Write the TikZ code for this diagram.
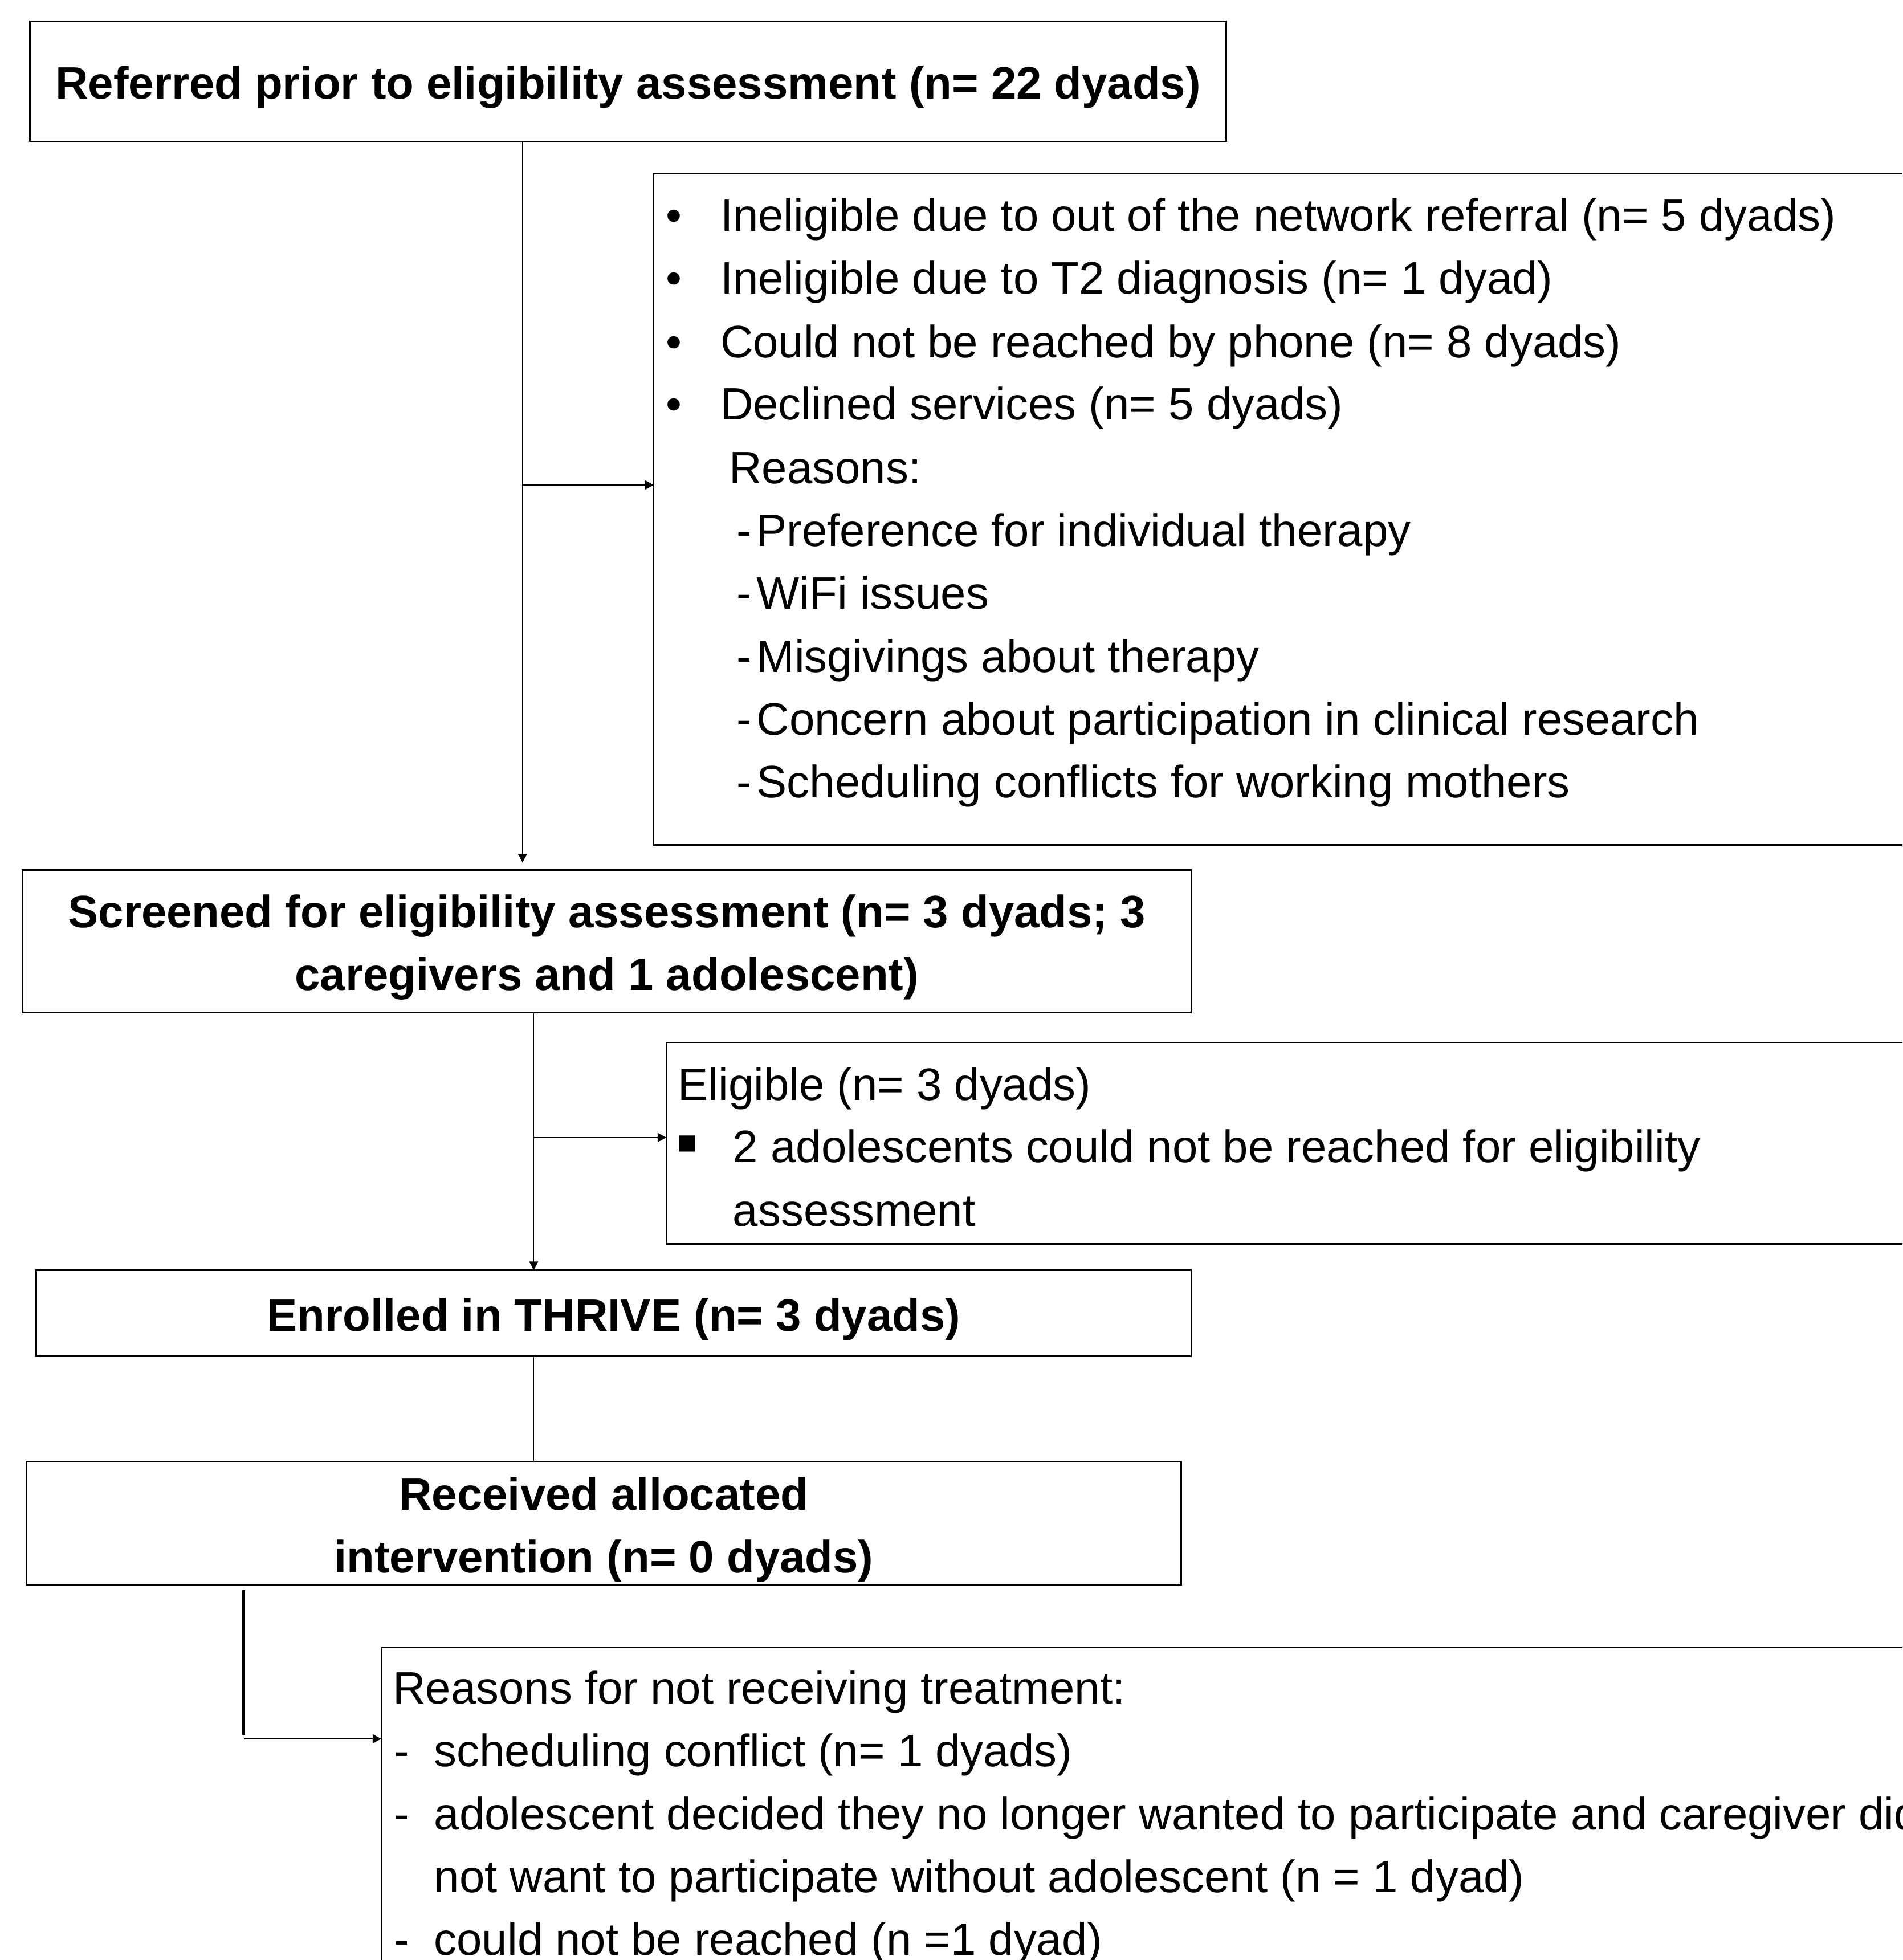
\documentclass[tikz,border=0pt]{standalone}
\usepackage{fontspec}
\setmainfont{Liberation Sans}
\newfontfamily\dejavu{DejaVu Sans}
\usetikzlibrary{arrows.meta}
\newdimen\uu
\uu=0.021938cm
\begin{document}
\begin{tikzpicture}[x=0.021938cm, y=-0.021938cm,
  box/.style={draw, line width=0.7pt, inner sep=0pt, outer sep=0pt, anchor=north west},
  btxt/.style={align=center, inner sep=0pt, font=\bfseries\fontsize{22.7}{31.3}\selectfont},
  txt/.style={anchor=base west, inner sep=0pt, font=\fontsize{22.7}{31.3}\selectfont},
  bul/.style={anchor=base, inner sep=0pt, font=\fontsize{22.7}{31.3}\selectfont},
  conn/.style={line width=0.55pt},
  arr/.style={conn, -{Triangle[length=4.3pt,width=4.5pt]}},
  heavy/.style={line width=1.6pt},
]
\useasboundingbox (0,0) rectangle (1522,1568);
\clip (0,0) rectangle (1522,1568);

% main boxes
\node[box, minimum width=957*\uu, minimum height=96*\uu] (b1) at (24,17) {};
\node[box, minimum width=935*\uu, minimum height=114*\uu] (b2) at (18,696) {};
\node[box, minimum width=924*\uu, minimum height=69*\uu] (b4) at (29,1016) {};
\node[box, minimum width=924*\uu, minimum height=99*\uu] (b6) at (21,1169) {};
\node[btxt] (b1t) at ([yshift=-5*\uu]b1.center) {Referred prior to eligibility assessment (n= 22 dyads)};
\node[btxt] (b2t) at ([yshift=-5*\uu]b2.center) {Screened for eligibility assessment (n= 3 dyads; 3\\caregivers and 1 adolescent)};
\node[btxt] (b4t) at ([yshift=-5*\uu]b4.center) {Enrolled in THRIVE (n= 3 dyads)};
\node[btxt] (b6t) at ([yshift=-5*\uu]b6.center) {Received allocated\\intervention (n= 0 dyads)};

% side boxes
\node[box, minimum width=1030*\uu, minimum height=537*\uu] (b3) at (523,139) {};
\node[box, minimum width=1020*\uu, minimum height=161*\uu] (b5) at (533,834) {};
\node[box, minimum width=1250*\uu, minimum height=290*\uu] (b7) at (305,1318) {};

% connectors
\coordinate (t1) at (418,690);
\coordinate (j1) at (418,388);
\draw[arr] (b1.south -| t1) -- (t1);
\draw[arr] (j1) -- (j1 -| b3.west);
\coordinate (j2) at (427,910);
\draw[arr] (b2.south -| j2) -- (b4.north -| j2);
\draw[arr] (j2) -- (j2 -| b5.west);
\draw[conn] (b4.south -| j2) -- (b6.north -| j2);
\coordinate (k1) at (195,1272);
\coordinate (k2) at (195,1388);
\coordinate (k3) at (195,1391);
\draw[heavy] (k1) -- (k2);
\draw[arr] (k3) -- (k3 -| b7.west);

% box 3 text
\node[bul] (d1) at (539,185) {•};
\node[txt] (l1) at (576,185) {Ineligible due to out of the network referral (n= 5 dyads)};
\node[bul] (d2) at (539,235) {•};
\node[txt] (l2) at (576,235) {Ineligible due to T2 diagnosis (n= 1 dyad)};
\node[bul] (d3) at (539,286) {•};
\node[txt] (l3) at (576,286) {Could not be reached by phone (n= 8 dyads)};
\node[bul] (d4) at (539,336) {•};
\node[txt] (l4) at (576,336) {Declined services (n= 5 dyads)};
\node[txt] (l5) at (583,387) {Reasons:};
\node[txt] (l6d) at (589,437) {-};
\node[txt] (l6) at (605,437) {Preference for individual therapy};
\node[txt] (l7d) at (589,487) {-};
\node[txt] (l7) at (605,487) {WiFi issues};
\node[txt] (l8d) at (589,538) {-};
\node[txt] (l8) at (605,538) {Misgivings about therapy};
\node[txt] (l9d) at (589,588) {-};
\node[txt] (l9) at (605,588) {Concern about participation in clinical research};
\node[txt] (l10d) at (589,638) {-};
\node[txt] (l10) at (605,638) {Scheduling conflicts for working mothers};

% box 5 text
\node[txt] (e1) at (542,880) {Eligible (n= 3 dyads)};
\node[anchor=center, inner sep=0pt, font=\fontsize{10.5}{12}\selectfont] (e2b) at (550,915) {\dejavu ■};
\node[txt] (e2) at (586,930) {2 adolescents could not be reached for eligibility};
\node[txt] (e3) at (586,981) {assessment};

% box 7 text
\node[txt] (r1) at (314,1363) {Reasons for not receiving treatment:};
\node[txt] (r2d) at (315,1413) {-};
\node[txt] (r2) at (347,1413) {scheduling conflict (n= 1 dyads)};
\node[txt] (r3d) at (315,1464) {-};
\node[txt] (r3) at (347,1464) {adolescent decided they no longer wanted to participate and caregiver did};
\node[txt] (r4) at (347,1514) {not want to participate without adolescent (n = 1 dyad)};
\node[txt] (r5d) at (315,1564) {-};
\node[txt] (r5) at (347,1564) {could not be reached (n =1 dyad)};
\end{tikzpicture}
\end{document}
